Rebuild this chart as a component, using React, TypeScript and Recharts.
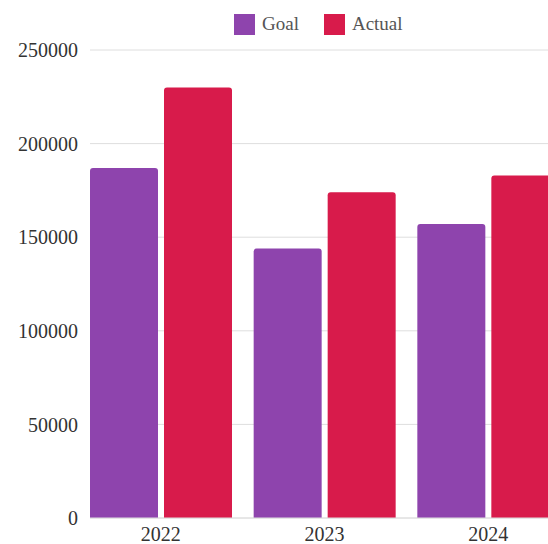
import React, { useLayoutEffect } from "react";
import {
  BarChart,
  Bar,
  XAxis,
  YAxis,
  CartesianGrid,
} from "recharts";

const YEARS = ["2022", "2023", "2024"];
const GOAL = [187000, 144000, 157000];
const ACTUAL = [230000, 174000, 183000];
const Y_TICKS = [0, 50000, 100000, 150000, 200000, 250000];

const PURPLE = "#8e44ad";
const RED = "#d81b4b";
const FONT = "'Liberation Serif', 'Times New Roman', serif";

const data = YEARS.map((year, i) => ({ year, Goal: GOAL[i], Actual: ACTUAL[i] }));

// legend drawn as a plain overlay so it doesn't push the plot down
function LegendBox() {
  const items = [
    { name: "Goal", color: PURPLE },
    { name: "Actual", color: RED },
  ];
  return (
    <div
      style={{
        position: "absolute",
        top: 13,
        left: 226,
        display: "flex",
        alignItems: "center",
        fontFamily: FONT,
      }}
    >
      {items.map((it) => (
        <div
          key={it.name}
          style={{ display: "flex", alignItems: "center", marginRight: 25 }}
        >
          <span
            style={{
              display: "inline-block",
              width: 21,
              height: 21,
              background: it.color,
              marginRight: 7,
            }}
          />
          <span style={{ fontSize: 19, color: "#555" }}>{it.name}</span>
        </div>
      ))}
    </div>
  );
}

export default function App() {
  // the chart runs off the right edge, so let it use the full window
  useLayoutEffect(() => {
    document.body.style.margin = "0";
  }, []);

  const axis = { fontSize: 20, fill: "#333", fontFamily: FONT };
  return (
    <div style={{ width: 548, height: 544, overflow: "hidden" }}>
      <div
        style={{
          width: 540,
          height: 536,
          marginLeft: 8,
          paddingTop: 8,
          overflow: "hidden",
          position: "relative",
        }}
      >
        <BarChart
          width={562}
          height={536}
          data={data}
          margin={{ top: 42, right: 0, left: 0, bottom: 0 }}
          barCategoryGap={11}
          barGap={6}
        >
          <CartesianGrid vertical={false} stroke="#dedede" />
          <XAxis
            dataKey="year"
            tick={axis}
            tickLine={false}
            axisLine={{ stroke: "#dedede" }}
            tickMargin={3}
            height={26}
            padding={{ left: -11, right: 0 }}
          />
          <YAxis
            width={82}
            domain={[0, 250000]}
            ticks={Y_TICKS}
            tick={axis}
            tickLine={false}
            axisLine={false}
            tickMargin={6}
          />
          <Bar dataKey="Goal" fill={PURPLE} radius={[3, 3, 0, 0]} isAnimationActive={false} />
          <Bar dataKey="Actual" fill={RED} radius={[3, 3, 0, 0]} isAnimationActive={false} />
        </BarChart>
        <LegendBox />
      </div>
    </div>
  );
}
